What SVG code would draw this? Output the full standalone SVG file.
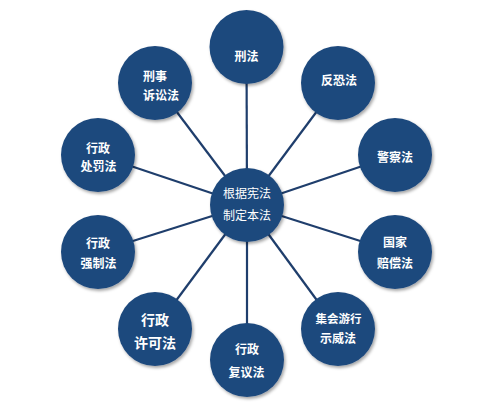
<svg xmlns="http://www.w3.org/2000/svg" width="499" height="416" viewBox="0 0 499 416">
<defs>
<filter id="sh" x="-30%" y="-30%" width="160%" height="160%">
<feDropShadow dx="1.5" dy="2" stdDeviation="1.5" flood-color="#000" flood-opacity="0.35"/>
</filter>
<style>
.n{fill:#1f497d;filter:url(#sh);}
.c{stroke:#1f3e6c;stroke-width:2.2;fill:none;}
text{font-family:"Noto Sans CJK SC","Microsoft YaHei",sans-serif;fill:#fff;font-size:12px;font-weight:bold;text-anchor:middle;dominant-baseline:central;}
.m{font-weight:normal;}
</style>
</defs>
<rect width="499" height="416" fill="#fff"/>
<g id="connectors">
<line class="c" x1="247" y1="205" x2="246.5" y2="47"/>
<line class="c" x1="247" y1="205" x2="338" y2="83"/>
<line class="c" x1="247" y1="205" x2="395" y2="155"/>
<line class="c" x1="247" y1="205" x2="395" y2="252"/>
<line class="c" x1="247" y1="205" x2="338" y2="329"/>
<line class="c" x1="247" y1="205" x2="247" y2="360"/>
<line class="c" x1="247" y1="205" x2="155" y2="329"/>
<line class="c" x1="247" y1="205" x2="98" y2="252"/>
<line class="c" x1="247" y1="205" x2="98" y2="155"/>
<line class="c" x1="247" y1="205" x2="155" y2="83"/>
</g>
<g id="center">
<circle class="n" cx="247" cy="205" r="37"/>
<text class="m" x="247" y="192.5">根据宪法</text>
<text class="m" x="247" y="214">制定本法</text>
</g>
<g id="xingfa">
<circle class="n" cx="246.5" cy="47" r="37"/>
<text x="246.5" y="55">刑法</text>
</g>
<g id="fankongfa">
<circle class="n" cx="338" cy="83" r="37"/>
<text x="339" y="79">反恐法</text>
</g>
<g id="jingchafa">
<circle class="n" cx="395" cy="155" r="37"/>
<text x="395" y="156">警察法</text>
</g>
<g id="guojiapeichangfa">
<circle class="n" cx="395" cy="252" r="37"/>
<text x="395" y="241.5">国家</text>
<text x="395" y="262.5">赔偿法</text>
</g>
<g id="jihuiyouxingshiweifa">
<circle class="n" cx="338" cy="329" r="37"/>
<text x="338.5" y="317.5" style="font-size:11.5px">集会游行</text>
<text x="338" y="337.5">示威法</text>
</g>
<g id="xingzhengfuyifa">
<circle class="n" cx="247" cy="360" r="37"/>
<text x="247" y="348.5">行政</text>
<text x="246.5" y="371">复议法</text>
</g>
<g id="xingzhengxukefa">
<circle class="n" cx="155" cy="329" r="37"/>
<text x="155" y="318.5" style="font-size:14px">行政</text>
<text x="155" y="341.5" style="font-size:14px">许可法</text>
</g>
<g id="xingzhengqiangzhifa">
<circle class="n" cx="98" cy="252" r="37"/>
<text x="98" y="242">行政</text>
<text x="98.5" y="262">强制法</text>
</g>
<g id="xingzhengchufafa">
<circle class="n" cx="98" cy="155" r="37"/>
<text x="98" y="147">行政</text>
<text x="98.5" y="165.5">处罚法</text>
</g>
<g id="xingshisusongfa">
<circle class="n" cx="155" cy="83" r="37"/>
<text x="143" y="75" style="text-anchor:start">刑事</text>
<text x="143" y="94" style="text-anchor:start">诉讼法</text>
</g>
</svg>
